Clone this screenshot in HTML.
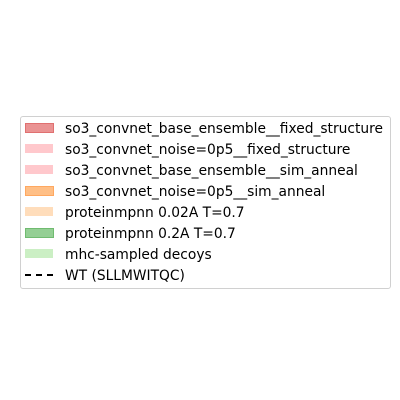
<!DOCTYPE html>
<html><head><style>
body{margin:0;width:400px;height:400px;background:#fff;position:relative;font-family:"DejaVu Sans","Liberation Sans",sans-serif;}
.box{position:absolute;left:20px;top:116px;width:369px;height:171px;border:1px solid #d0d0d0;border-radius:3px;}
.r{position:absolute;left:65px;font-size:13.8px;color:#000;line-height:16px;white-space:nowrap;}
.p{position:absolute;left:25px;width:28px;height:9px;}
.d{position:absolute;left:25px;width:28px;height:0;border-top:2px dashed #000;}
</style></head><body>
<div class="box"></div>
<div class="p" style="top:123px;background:#ea9393;border:1px solid #e07070;width:27px;height:8px"></div>
<div class="r" style="top:121px">so3_convnet_base_ensemble__fixed_structure</div>
<div class="p" style="top:144px;background:#ffc8cc"></div>
<div class="r" style="top:142px">so3_convnet_noise=0p5__fixed_structure</div>
<div class="p" style="top:165px;background:#ffc8cc"></div>
<div class="r" style="top:163px">so3_convnet_base_ensemble__sim_anneal</div>
<div class="p" style="top:186px;background:#ffbf86;border:1px solid #ffa860;width:27px;height:8px"></div>
<div class="r" style="top:184px">so3_convnet_noise=0p5__sim_anneal</div>
<div class="p" style="top:207px;background:#ffddbb"></div>
<div class="r" style="top:205px">proteinmpnn 0.02A T=0.7</div>
<div class="p" style="top:228px;background:#94cf94;border:1px solid #70bb70;width:27px;height:8px"></div>
<div class="r" style="top:226px">proteinmpnn 0.2A T=0.7</div>
<div class="p" style="top:249px;background:#cbefc4"></div>
<div class="r" style="top:247px">mhc-sampled decoys</div>
<div class="d" style="top:274px"></div>
<div class="r" style="top:268px">WT (SLLMWITQC)</div>
</body></html>
